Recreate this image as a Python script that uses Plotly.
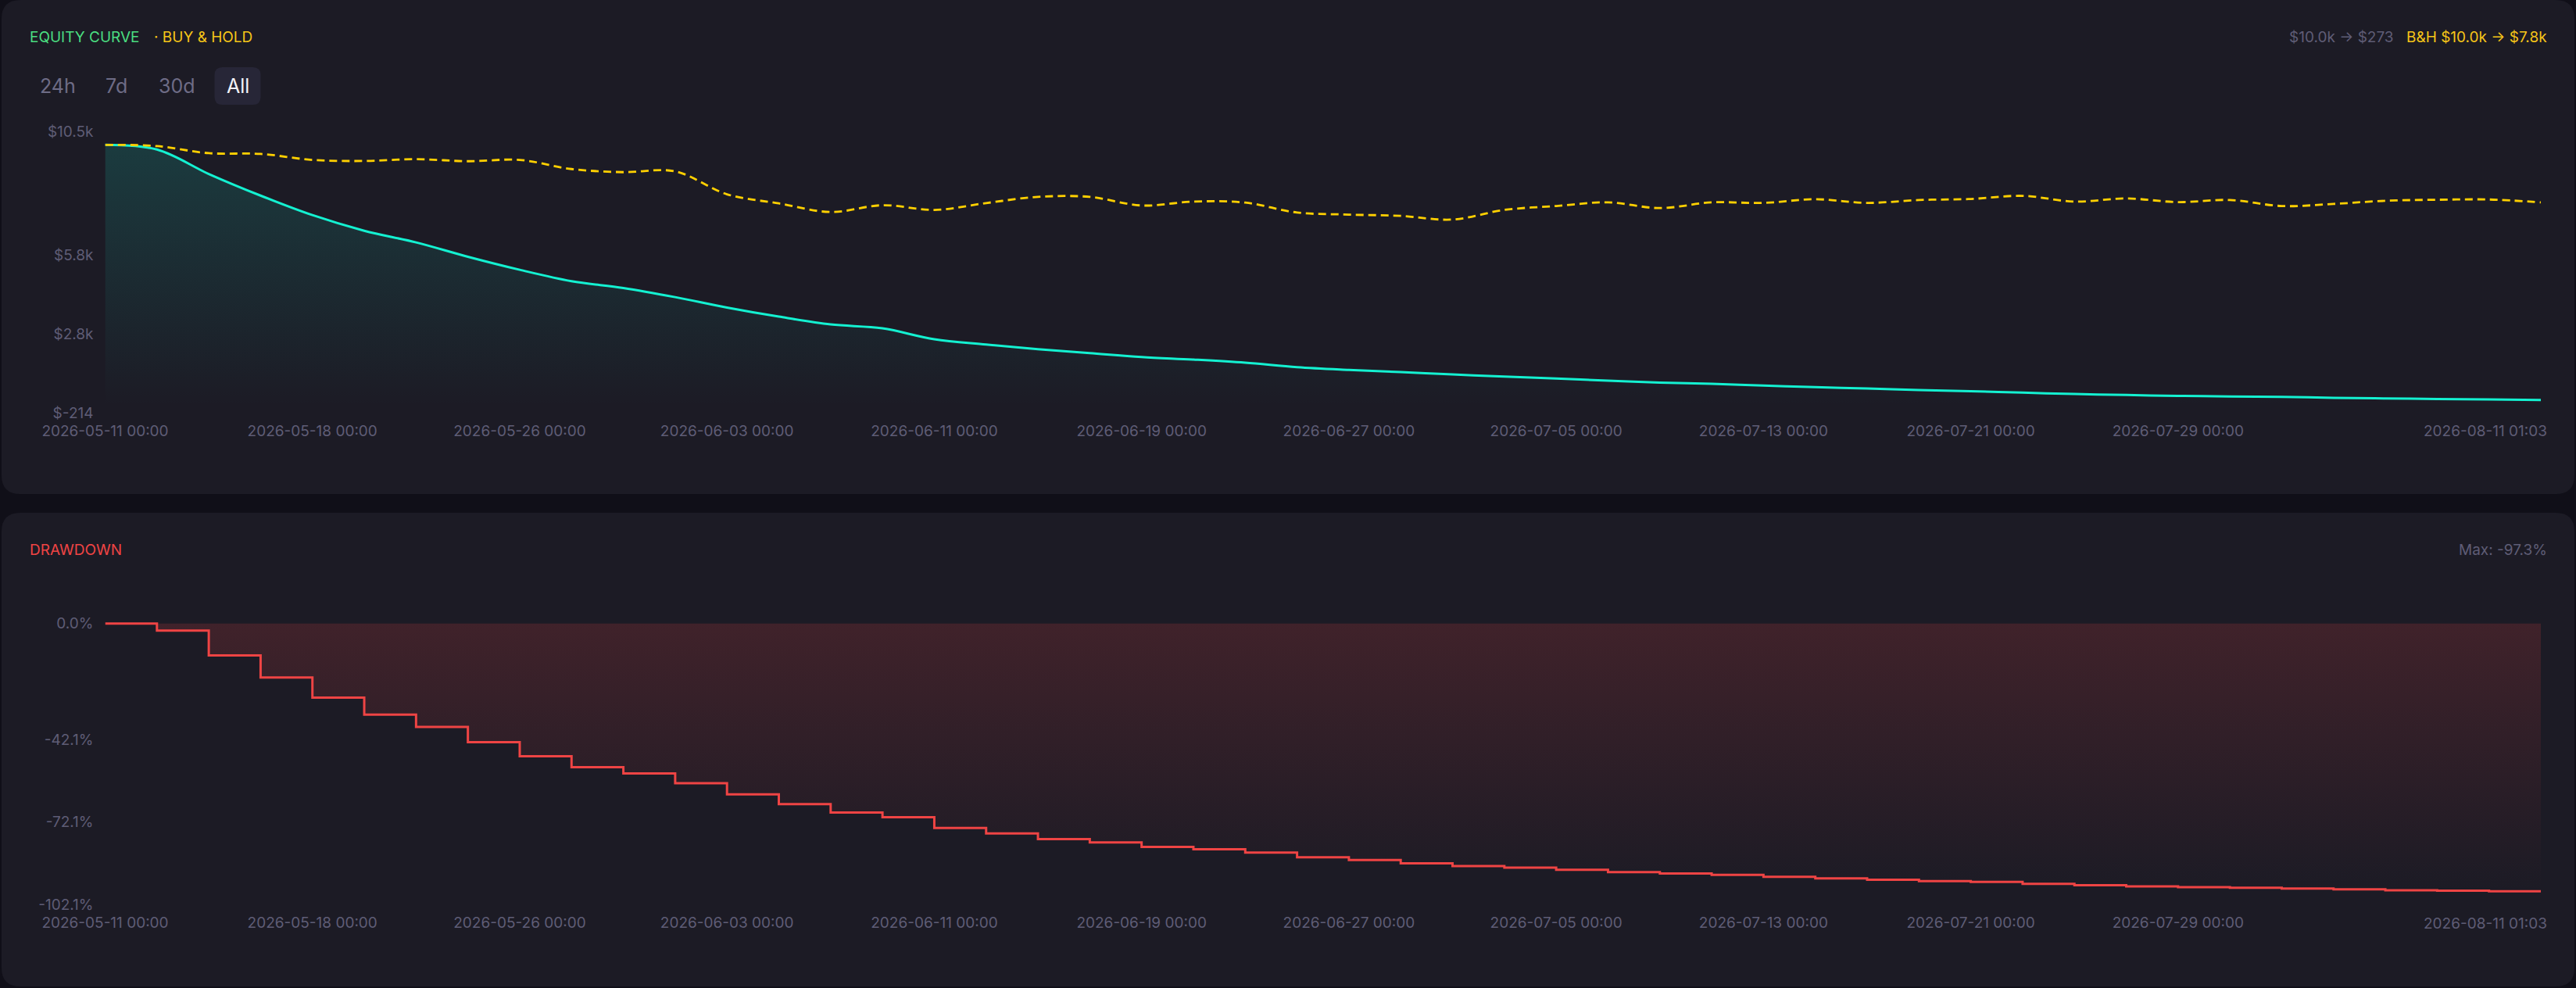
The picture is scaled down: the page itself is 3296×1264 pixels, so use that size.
import plotly.graph_objects as go

# Page geometry / palette
W, H = 3296, 1264
PAGE_BG = '#100f18'
CARD_BG = '#1c1b25'
MUTED = '#5f5d76'
TEAL = '#14f1d1'
GOLD = '#ffd000'
GOLD_TXT = '#f5c518'
RED = '#ef4444'
GREEN = '#4ade80'
FONT = 'Inter'

# --- data ---
timestamps = [
    '2026-05-11 00:00', '2026-05-12 00:00', '2026-05-14 00:00', '2026-05-16 00:00',
    '2026-05-18 00:00', '2026-05-20 00:00', '2026-05-22 00:00', '2026-05-24 00:00',
    '2026-05-26 00:00', '2026-05-28 00:00', '2026-05-30 00:00', '2026-06-01 00:00',
    '2026-06-03 00:00', '2026-06-05 00:00', '2026-06-07 00:00', '2026-06-09 00:00',
    '2026-06-11 00:00', '2026-06-13 00:00', '2026-06-15 00:00', '2026-06-17 00:00',
    '2026-06-19 00:00', '2026-06-21 00:00', '2026-06-23 00:00', '2026-06-25 00:00',
    '2026-06-27 00:00', '2026-06-29 00:00', '2026-07-01 00:00', '2026-07-03 00:00',
    '2026-07-05 00:00', '2026-07-07 00:00', '2026-07-09 00:00', '2026-07-11 00:00',
    '2026-07-13 00:00', '2026-07-15 00:00', '2026-07-17 00:00', '2026-07-19 00:00',
    '2026-07-21 00:00', '2026-07-23 00:00', '2026-07-25 00:00', '2026-07-27 00:00',
    '2026-07-29 00:00', '2026-07-31 00:00', '2026-08-02 00:00', '2026-08-04 00:00',
    '2026-08-06 00:00', '2026-08-08 00:00', '2026-08-10 00:00', '2026-08-11 01:03',
]
equity = [10000, 9820, 8890, 8064, 7320, 6724, 6278, 5732, 5235, 4800, 4541, 4193,
          3796, 3449, 3151, 3002, 2585, 2387, 2208, 2059, 1910, 1811, 1692, 1525,
          1420, 1335, 1245, 1166, 1087, 1007, 935, 885, 818, 759, 709, 650,
          605, 550, 501, 461, 428, 408, 388, 355, 330, 308, 290, 273]
buy_hold = [10000, 9950, 9682, 9653, 9424, 9385, 9454, 9375, 9424, 9077, 8958, 8988,
            8114, 7767, 7439, 7697, 7519, 7780, 8015, 8015, 7687, 7836, 7796, 7419,
            7340, 7290, 7151, 7519, 7667, 7806, 7588, 7806, 7786, 7925, 7786, 7896,
            7935, 8054, 7836, 7955, 7816, 7896, 7667, 7747, 7866, 7906, 7915, 7806]
drawdown = [0, -2.6, -11.6, -19.6, -26.9, -33.1, -37.6, -43.1, -48.2, -52.2, -54.5, -58.0,
            -62.1, -65.6, -68.7, -70.4, -74.3, -76.3, -78.3, -79.5, -81.2, -82.0, -83.2, -84.9,
            -85.9, -87.1, -88.1, -88.7, -89.5, -90.3, -90.8, -91.3, -92.0, -92.6, -93.1, -93.6,
            -93.9, -94.6, -95.1, -95.5, -95.8, -96.0, -96.3, -96.6, -96.9, -97.1, -97.3, -97.3]

equity_ticks = [-214, 2800, 5800, 10500]
equity_tick_text = ['$-214', '$2.8k', '$5.8k', '$10.5k']
dd_ticks = [0, -42.1, -72.1, -102.1]
dd_tick_text = ['0.0%', '-42.1%', '-72.1%', '-102.1%']
range_buttons = ['24h', '7d', '30d', 'All']


def px(x):
    return x / W


def py(y):
    return 1 - y / H


def rounded_rect(x0, y0, x1, y1, r):
    # pixel coords (y down) -> paper path
    X0, X1 = px(x0), px(x1)
    Yb, Yt = py(y1), py(y0)
    rx, ry = r / W, r / H
    return (f"M {X0+rx},{Yb} L {X1-rx},{Yb} Q {X1},{Yb} {X1},{Yb+ry} "
            f"L {X1},{Yt-ry} Q {X1},{Yt} {X1-rx},{Yt} L {X0+rx},{Yt} "
            f"Q {X0},{Yt} {X0},{Yt-ry} L {X0},{Yb+ry} Q {X0},{Yb} {X0+rx},{Yb} Z")


fig = go.Figure()

# --- equity curve ---
fig.add_trace(go.Scatter(
    x=timestamps, y=equity, mode='lines', line=dict(color=TEAL, width=3, shape='spline'),
    fill='tozeroy',
    fillgradient=dict(type='vertical', colorscale=[[0, 'rgba(20,241,209,0)'],
                                                    [1, 'rgba(20,241,209,0.15)']]),
    hoverinfo='skip', xaxis='x', yaxis='y'))
fig.add_trace(go.Scatter(
    x=timestamps, y=buy_hold, mode='lines',
    line=dict(color=GOLD, width=2.8, dash='10px,6px', shape='spline'),
    hoverinfo='skip', xaxis='x', yaxis='y'))

# --- drawdown ---
fig.add_trace(go.Scatter(
    x=timestamps, y=drawdown, mode='lines', line=dict(color=RED, width=3, shape='hv'),
    fill='tozeroy',
    fillgradient=dict(type='vertical', colorscale=[[0, 'rgba(239,68,68,0)'],
                                                    [1, 'rgba(239,68,68,0.17)']]),
    hoverinfo='skip', xaxis='x2', yaxis='y2'))

x_left, x_right = 134.5, 3251
tick_font = dict(family=FONT, size=19, color=MUTED)
xaxis_common = dict(
    type='category', range=[0, len(timestamps) - 1], domain=[px(x_left), px(x_right)],
    showgrid=False, zeroline=False, showline=False, ticks='', automargin=False,
    tickmode='array', tickvals=timestamps[0:41:4], ticktext=timestamps[0:41:4],
    tickfont=tick_font, ticklabelstandoff=10, fixedrange=True)
yaxis_common = dict(showgrid=False, zeroline=False, showline=False, ticks='',
                    automargin=False, tickfont=tick_font, ticklabelstandoff=14,
                    fixedrange=True)

fig.update_layout(
    width=W, height=H,
    margin=dict(l=0, r=0, t=0, b=0, autoexpand=False),
    paper_bgcolor=PAGE_BG, plot_bgcolor='rgba(0,0,0,0)',
    showlegend=False,
    font=dict(family=FONT, color=MUTED),
    xaxis=dict(xaxis_common, anchor='y'),
    yaxis=dict(yaxis_common, anchor='x', range=[-214, 10500],
               domain=[py(528), py(168.5)],
               tickvals=equity_ticks, ticktext=equity_tick_text),
    xaxis2=dict(xaxis_common, anchor='y2'),
    yaxis2=dict(yaxis_common, anchor='x2', range=[-102.1, 0.8],
                domain=[py(1157.2), py(794.9)],
                tickvals=dd_ticks, ticktext=dd_tick_text),
)

# cards and the active range button
shapes = [
    dict(type='path', path=rounded_rect(2, 0, 3294, 632, 24), xref='paper', yref='paper',
         fillcolor=CARD_BG, line=dict(width=0), layer='below'),
    dict(type='path', path=rounded_rect(2, 656, 3294, 1262, 24), xref='paper', yref='paper',
         fillcolor=CARD_BG, line=dict(width=0), layer='below'),
    dict(type='path', path=rounded_rect(274.5, 86, 333.5, 134, 10), xref='paper', yref='paper',
         fillcolor='#272637', line=dict(width=0), layer='below'),
]
fig.update_layout(shapes=shapes)


def label(text, x, y, color, size=19, anchor='left'):
    fig.add_annotation(text=text, x=px(x), y=py(y), xref='paper', yref='paper',
                       xanchor=anchor, yanchor='middle', showarrow=False,
                       font=dict(family=FONT, size=size, color=color))


label('EQUITY CURVE', 36, 48, GREEN)
label('· BUY & HOLD', 195, 48, GOLD_TXT)
label('B&H $10.0k → $7.8k', 3261, 48, GOLD_TXT, anchor='right')
label('$10.0k → $273', 3065, 48, MUTED, anchor='right')
label('DRAWDOWN', 36, 703, RED)
label('Max: -97.3%', 3261, 703, MUTED, anchor='right')

btn_x = [73.7, 149, 226, 304]
for name, bx in zip(range_buttons, btn_x):
    label(name, bx, 110, '#f2f2f7' if name == 'All' else '#6e6c86', size=25, anchor='center')

# last x tick label, right aligned at the end of each axis
for xr, ly in [('x', 551), ('x2', 1181)]:
    fig.add_annotation(text=timestamps[-1], x=timestamps[-1], xref=xr, y=py(ly), yref='paper',
                       xanchor='right', yanchor='middle', xshift=10, showarrow=False,
                       font=tick_font)

fig.write_html("out.html", config={'displayModeBar': False}, post_script=(
    "document.body.style.margin='0';"
    "document.body.style.background='" + PAGE_BG + "';"))
